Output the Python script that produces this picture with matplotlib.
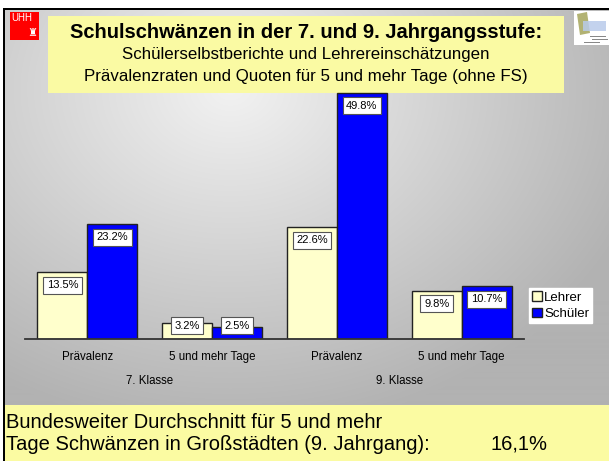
"""Schulschwänzen in der 7. und 9. Jahrgangsstufe - grouped bar chart slide."""
import matplotlib.pyplot as plt
import numpy as np
from matplotlib.patches import Rectangle, Polygon

plt.rcParams["font.family"] = ["Liberation Sans", "DejaVu Sans"]

W, H = 609, 461

categories = ["Prävalenz", "5 und mehr Tage", "Prävalenz", "5 und mehr Tage"]
groups = ["7. Klasse", "9. Klasse"]
lehrer = [13.5, 3.2, 22.6, 9.8]
schueler = [23.2, 2.5, 49.8, 10.7]
series_names = ["Lehrer", "Schüler"]

title = "Schulschwänzen in der 7. und 9. Jahrgangsstufe:"
subtitle = ["Schülerselbstberichte und Lehrereinschätzungen",
            "Prävalenzraten und Quoten für 5 und mehr Tage (ohne FS)"]
footer = ["Bundesweiter Durchschnitt für 5 und mehr",
          "Tage Schwänzen in Großstädten (9. Jahrgang):"]
footer_value = "16,1%"


def fx(x):
    return x / W


def fy(y):
    return 1 - y / H


def rect(x0, y0, x1, y1, **kw):
    return Rectangle((fx(x0), fy(y1)), (x1 - x0) / W, (y1 - y0) / H,
                     transform=fig.transFigure, **kw)


fig = plt.figure(figsize=(W / 100, H / 100), dpi=100)
fig.patch.set_facecolor("white")

# background gradient (light at top-left, darker towards the edges)
bg = fig.add_axes([0, 0, 1, 1], zorder=-5)
yy, xx = np.mgrid[0:H, 0:W]
d = np.sqrt(((xx - 230) / 420.0) ** 2 + ((yy - 90) / 330.0) ** 2)
gray = np.clip(242 - 62 * d, 178, 242) / 255.0
bg.imshow(np.dstack([gray, gray, gray]), extent=[0, W, H, 0], aspect="auto")
bg.set_xlim(0, W)
bg.set_ylim(H, 0)
bg.axis("off")

# white strip on top, black frame lines
fig.patches.append(rect(0, 0, W, 8, facecolor="white", edgecolor="none", zorder=-4))
fig.patches.append(rect(0, 8, W, 10.5, facecolor="black", edgecolor="none", zorder=-4))
fig.patches.append(rect(0, 8, 2.5, H, facecolor="white", edgecolor="none", zorder=-4))
fig.patches.append(rect(2.5, 8, 5, H, facecolor="black", edgecolor="none", zorder=-4))

# UHH logo
fig.patches.append(rect(10, 12, 39, 40, facecolor="#ff0000", edgecolor="none", zorder=-3))
fig.text(fx(11), fy(18), "UHH", color="white", fontsize=7, ha="left", va="center")
fig.text(fx(32), fy(33), "\u265c", color="white", fontsize=8, ha="center", va="center",
         family=["DejaVu Sans"])

# right logo
fig.patches.append(rect(574, 11, 609, 45, facecolor="white", edgecolor="none", zorder=-3))
fig.patches.append(Polygon([(fx(577), fy(14)), (fx(587), fy(12)), (fx(590), fy(33)),
                            (fx(580), fy(35))], closed=True, transform=fig.transFigure,
                           facecolor="#a5a55a", edgecolor="none", alpha=0.85, zorder=-2))
fig.patches.append(rect(583, 21, 606, 31, facecolor="#b9cbea", edgecolor="none",
                        alpha=0.85, zorder=-2))
for ly, lx in [(36, 598), (39, 600), (42, 592)]:
    fig.patches.append(rect(lx - 8, ly, lx + 8, ly + 1, facecolor="#888888",
                            edgecolor="none", zorder=-2))

# title box
fig.patches.append(rect(48, 16, 564, 93, facecolor="#fafaa3", edgecolor="none", zorder=-1))
fig.text(fx(306), fy(32), title, fontsize=14.5, fontweight="bold", ha="center", va="center")
fig.text(fx(306), fy(55), subtitle[0], fontsize=12.2, ha="center", va="center")
fig.text(fx(306), fy(77), subtitle[1], fontsize=12.2, ha="center", va="center")

# footer box
fig.patches.append(rect(5, 405, W, H, facecolor="#fbfba2", edgecolor="none", zorder=-1))
fig.text(fx(6), fy(422), footer[0], fontsize=14.5, ha="left", va="center")
fig.text(fx(6), fy(444), footer[1], fontsize=14.5, ha="left", va="center")
fig.text(fx(490), fy(444), footer_value, fontsize=14.5, ha="left", va="center")

# chart
px_per_unit = 4.95
base_y = 339.3
ymax = 50
ax = fig.add_axes([fx(25), fy(base_y), (524 - 25) / W, ymax * px_per_unit / H])
ax.set_facecolor("none")
x = np.arange(len(categories))
w = 0.4
b1 = ax.bar(x - w / 2, lehrer, w, color="#ffffcc", edgecolor="#222222", linewidth=1.0,
            label=series_names[0])
b2 = ax.bar(x + w / 2, schueler, w, color="#0000ff", edgecolor="#222222", linewidth=1.0,
            label=series_names[1])
ax.set_xlim(-0.5, len(categories) - 0.5)
ax.set_ylim(0, ymax)

for xs, vals in [(x - w / 2, lehrer), (x + w / 2, schueler)]:
    for xi, v in zip(xs, vals):
        ax.text(xi, max(v - 2.6, 2.7), f"{v}%", ha="center", va="center", fontsize=8,
                bbox=dict(boxstyle="square,pad=0.32", facecolor="white",
                          edgecolor="#555555", linewidth=0.8), zorder=5)

for s in ["top", "right", "left"]:
    ax.spines[s].set_visible(False)
ax.spines["bottom"].set_color("#333333")
ax.spines["bottom"].set_linewidth(1.3)
ax.set_yticks([])
ax.set_xticks([])

for xi, c in zip(x, categories):
    ax.text(xi, -(357 - base_y) / px_per_unit, c, ha="center", va="center", fontsize=8.3,
            clip_on=False)
for gi, g in enumerate(groups):
    ax.text(2 * gi + 0.5, -(381 - base_y) / px_per_unit, g, ha="center", va="center",
            fontsize=8.3, clip_on=False)

leg = fig.legend(handles=[b1, b2], loc="upper left", bbox_to_anchor=(fx(529), fy(288)),
                 fontsize=9.5, frameon=True, fancybox=False, framealpha=1,
                 edgecolor="white", borderpad=0.25, handlelength=0.75, handleheight=0.75,
                 handletextpad=0.15, labelspacing=0.3, borderaxespad=0)

fig.savefig("out.png", dpi=100)
